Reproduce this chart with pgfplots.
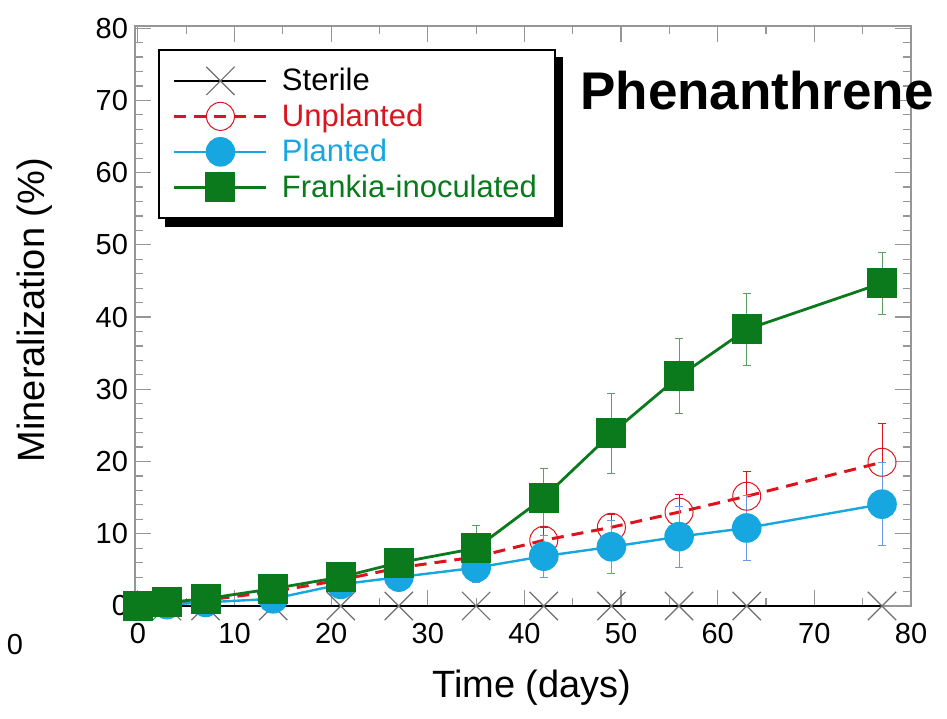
\documentclass[border=0pt]{standalone}
\usepackage{fontspec}
\setmainfont{Liberation Sans}
\usepackage{pgfplots}
\pgfplotsset{compat=1.18}
\usetikzlibrary{backgrounds}
\definecolor{cgreen}{RGB}{10,122,28}
\definecolor{cgreenl}{RGB}{90,160,100}
\definecolor{cblue}{RGB}{22,166,224}
\definecolor{cbluel}{RGB}{110,150,230}
\definecolor{cred}{RGB}{220,20,30}
\definecolor{cgray}{RGB}{110,110,110}
\definecolor{frame}{RGB}{150,150,150}
\begin{document}
\begin{tikzpicture}
\begin{axis}[
  at={(0,0)}, anchor=south west,
  scale only axis, width=388pt, height=290pt,
  xmin=-0.3, xmax=80, ymin=0, ymax=80.3,
  xtick={0,10,...,80}, ytick={0,10,...,80},
  minor x tick num=1, minor y tick num=4,
  tick align=inside,
  major tick length=8pt, minor tick length=4pt,
  axis line style={frame, line width=0.7pt},
  every tick/.style={frame, line width=0.6pt},
  /pgf/number format/assume math mode=true,
  ticklabel style={font=\fontsize{14.5}{17}\selectfont},
  xticklabel style={yshift=-5pt},
  xlabel={Time (days)}, ylabel={Mineralization (\%)},
  label style={font=\fontsize{19}{22}\selectfont},
  xlabel style={at={(axis description cs:0.5116,-0.1414)}, anchor=center},
  ylabel style={at={(axis description cs:-0.129,0.51)}, anchor=center},
  clip=false,
  legend cell align=left,
  legend style={name=leg, at={(axis description cs:0.0296,0.960)}, anchor=north west,
    draw=black, line width=1pt, fill=white,
    font=\fontsize{15.5}{18}\selectfont,
    inner xsep=7pt, inner ysep=7pt, row sep=1pt,
    /tikz/every odd column/.append style={column sep=5pt}},
  legend image code/.code={\draw[mark repeat=2,mark phase=2] plot coordinates {(0pt,0pt)(23pt,0pt)(46pt,0pt)};},
]
% Sterile
\addplot[black, line width=1pt, mark=x, mark size=10pt, mark options={cgray, line width=0.6pt}]
  coordinates {(0,0)(3,0)(7,0)(14,0)(21,0)(27,0)(35,0)(42,0)(49,0)(56,0)(63,0)(77,0)};
\addlegendentry{Sterile}
% Unplanted
\addplot[cred, line width=1.5pt, dash pattern=on 6pt off 4pt, mark=o, mark size=7pt,
  mark options={solid, cred, line width=0.5pt, fill=none},
  error bars/.cd, y dir=both, y explicit, error bar style={cred, line width=0.5pt, solid}, error mark options={cred, rotate=90, mark size=2pt, solid, line width=0.5pt}]
  table[x=x, y=y, y error=e] {
x y e
0 0 0
3 0.3 0
7 0.8 0
14 2.0 0
21 3.6 0
27 5.3 0
35 6.8 0
42 9.1 1.7
49 10.9 1.7
56 13.0 2.5
63 15.2 3.4
77 19.9 5.4
};
\addlegendentry{\textcolor{cred}{Unplanted}}
% Planted
\addplot[cblue, line width=1.2pt, mark=*, mark size=6.8pt, mark options={cblue, fill=cblue},
  error bars/.cd, y dir=both, y explicit, error bar style={cbluel, line width=0.5pt}, error mark options={cbluel, rotate=90, mark size=2pt, line width=0.5pt}]
  table[x=x, y=y, y error=e] {
x y e
0 0 0
3 0.2 0
7 0.5 0
14 1.0 0
21 3.0 0
27 4.0 0
35 5.3 2.1
42 6.9 2.9
49 8.2 3.7
56 9.6 4.2
63 10.8 4.5
77 14.1 5.7
};
\addlegendentry{\textcolor{cblue}{Planted}}
% Frankia
\addplot[cgreen, line width=1.4pt, mark=square*, mark size=6.8pt, mark options={cgreen, fill=cgreen},
  error bars/.cd, y dir=both, y explicit, error bar style={cgreenl, line width=0.5pt}, error mark options={cgreenl, rotate=90, mark size=2pt, line width=0.5pt}]
  table[x=x, y=y, y error=e] {
x y e
0 0 0
3 0.5 0
7 1.0 0
14 2.4 0
21 4.0 0
27 6.0 0
35 8.0 3.2
42 15.0 4.0
49 23.9 5.5
56 31.8 5.2
63 38.3 5.0
77 44.7 4.3
};
\addlegendentry{\textcolor{cgreen}{Frankia-inoculated}}
\end{axis}
\begin{scope}[on background layer]
\fill[black] ([shift={(3.5pt,-4pt)}]leg.south west) rectangle ([shift={(3.5pt,-4pt)}]leg.north east);
\end{scope}
\node[anchor=base west, inner sep=0pt, font=\fontsize{26.5}{30}\selectfont\bfseries] at (222.5pt,248pt) {Phenanthrene};
\node[anchor=center, inner sep=0pt, font=\fontsize{14.5}{17}\selectfont] at (-60pt,-19.5pt) {0};
\pgfresetboundingbox
\path (-67.5pt,-56pt) rectangle (406pt,303pt);
\end{tikzpicture}
\end{document}
